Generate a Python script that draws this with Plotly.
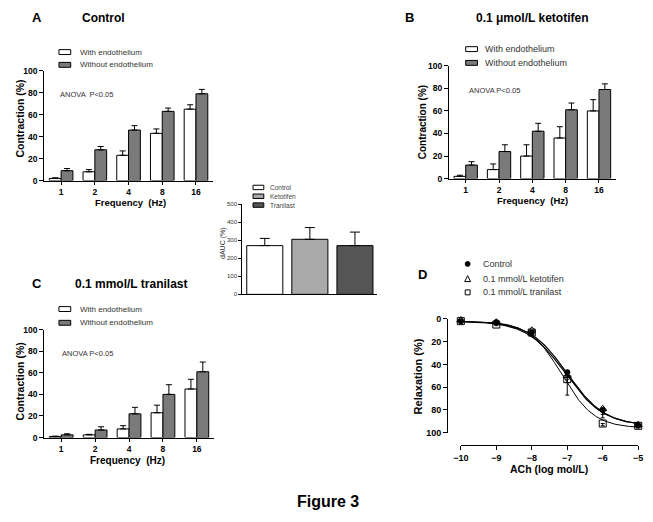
import numpy as np
import plotly.graph_objects as go

W, H = 653, 522

# ---------------- data ----------------
freq = ["1", "2", "4", "8", "16"]

a_with = [2, 8, 23, 43, 65]
a_with_err = [0.5, 2, 4, 4, 4]
a_without = [9, 28, 46, 63, 79]
a_without_err = [2, 3, 4, 3, 4]

b_with = [2, 8, 20, 36, 60]
b_with_err = [1, 5, 10, 10, 10]
b_without = [12, 24, 42, 61, 79]
b_without_err = [3, 6, 7, 6, 5]

c_with = [1, 2.5, 8, 23, 45]
c_with_err = [0.3, 0.5, 3, 7, 9]
c_without = [2.5, 7, 22, 40, 61]
c_without_err = [1, 3, 6, 9, 9]

dauc_groups = ["Control", "Ketotifen", "Tranilast"]
dauc = [270, 305, 270]
dauc_err = [40, 65, 75]

ach = [-10, -9, -8, -7, -6, -5]
d_control = [2, 3, 12, 47, 80, 94]
d_control_err = [0.5, 0.5, 2, 4, 4, 1]
d_keto = [1, 3, 10, 50, 79, 93]
d_keto_err = [0.5, 0.5, 2, 6, 8, 1]
d_tran = [2, 5, 12, 53, 92, 94]
d_tran_err = [0.5, 1, 2, 14, 2, 1]

# fitted sigmoid parameters (top, bottom, logEC50, hill)
fit_control = [2, 94, -7.05, 0.8]
fit_keto = [2, 94, -7.0, 0.82]
fit_tran = [2, 96, -7.15, 0.95]

# ---------------- helpers ----------------
def px(x):
    return x / W

def py(y):
    return 1 - y / H

FONT = "Liberation Sans, Arial, sans-serif"
GREY = "#7a7a7a"
TXT = "#333333"

fig = go.Figure()

def bar_axes(n, x0, x1, y0, y1):
    xa = dict(domain=[px(x0), px(x1)], range=[-0.5, 4.5], type="linear",
              tickmode="array", tickvals=list(range(5)), ticktext=freq,
              showline=True, linecolor="black", linewidth=1.2, ticks="outside",
              ticklen=3, tickcolor="black", showgrid=False, zeroline=False,
              tickfont=dict(family=FONT, size=8.5, color="black", weight="bold"),
              anchor="y" + ("" if n == 1 else str(n)), fixedrange=True)
    ya = dict(domain=[py(y1), py(y0)], range=[0, 100], tickvals=[0, 20, 40, 60, 80, 100],
              showline=True, linecolor="black", linewidth=1.2, ticks="outside",
              ticklen=4, tickcolor="black", showgrid=False, zeroline=False,
              tickfont=dict(family=FONT, size=8.5, color="black", weight="bold"),
              anchor="x" + ("" if n == 1 else str(n)), fixedrange=True)
    return xa, ya

def add_bars(n, with_v, with_e, without_v, without_e):
    xref = "x" + ("" if n == 1 else str(n))
    yref = "y" + ("" if n == 1 else str(n))
    xs = list(range(5))
    fig.add_trace(go.Bar(x=xs, y=with_v, name="With endothelium", xaxis=xref, yaxis=yref,
                         offsetgroup="w", marker=dict(color="white", line=dict(color="black", width=1)),
                         error_y=dict(type="data", array=with_e, arrayminus=[0] * 5, symmetric=False,
                                      color="black", thickness=1, width=3),
                         showlegend=False))
    fig.add_trace(go.Bar(x=xs, y=without_v, name="Without endothelium", xaxis=xref, yaxis=yref,
                         offsetgroup="wo", marker=dict(color=GREY, line=dict(color="black", width=1)),
                         error_y=dict(type="data", array=without_e, arrayminus=[0] * 5, symmetric=False,
                                      color="black", thickness=1, width=3),
                         showlegend=False))

add_bars(1, a_with, a_with_err, a_without, a_without_err)
add_bars(2, b_with, b_with_err, b_without, b_without_err)
add_bars(3, c_with, c_with_err, c_without, c_without_err)

xa1, ya1 = bar_axes(1, 37, 209, 67, 179)
xa2, ya2 = bar_axes(2, 450, 620, 62, 177)
xa3, ya3 = bar_axes(3, 37, 210, 331, 441)

# inset dAUC
fig.add_trace(go.Bar(x=[0, 1, 2], y=dauc, xaxis="x4", yaxis="y4", width=0.8,
                     marker=dict(color=["white", "#aaaaaa", "#555555"], line=dict(color="black", width=1)),
                     error_y=dict(type="data", array=dauc_err, arrayminus=[0] * 3, symmetric=False,
                                  color="black", thickness=1, width=5),
                     showlegend=False, customdata=dauc_groups))
xa4 = dict(domain=[px(239), px(377)], range=[-0.5, 2.5], showline=True, linecolor="black",
           linewidth=1, showticklabels=False, ticks="", showgrid=False, zeroline=False,
           anchor="y4", fixedrange=True)
ya4 = dict(domain=[py(295), py(203)], range=[0, 500], tickvals=[0, 100, 200, 300, 400, 500],
           showline=True, linecolor="black", linewidth=1, ticks="outside", ticklen=3,
           tickcolor="black", showgrid=False, zeroline=False,
           tickfont=dict(family=FONT, size=6, color="#333"), anchor="x4", fixedrange=True)

# panel D curves + points
xs_fit = np.linspace(-10, -5, 200)
def sig(p):
    top, bottom, ec, hill = p
    return top + (bottom - top) / (1 + 10 ** ((ec - xs_fit) * hill))

for p, lw in [(fit_control, 1.2), (fit_keto, 1.2), (fit_tran, 1.0)]:
    fig.add_trace(go.Scatter(x=xs_fit, y=sig(p), mode="lines", xaxis="x5", yaxis="y5",
                             line=dict(color="black", width=lw), showlegend=False, hoverinfo="skip"))

pts = [
    ("Control", d_control, d_control_err, dict(symbol="circle", color="black", size=6)),
    ("0.1 mmol/L ketotifen", d_keto, d_keto_err,
     dict(symbol="triangle-up-open", color="black", size=7, line=dict(width=1))),
    ("0.1 mmol/L tranilast", d_tran, d_tran_err,
     dict(symbol="square-open", color="black", size=7, line=dict(width=1))),
]
for name, vals, errs, mk in pts:
    fig.add_trace(go.Scatter(x=ach, y=vals, mode="markers", name=name, xaxis="x5", yaxis="y5",
                             marker=mk, cliponaxis=False, showlegend=False,
                             error_y=dict(type="data", array=errs, arrayminus=[0] * 6, symmetric=False,
                                          color="black", thickness=1, width=2)))

xa5 = dict(domain=[px(462), px(643)], range=[-10, -5], tickvals=ach, anchor="free",
           position=py(449), showline=True, linecolor="black", linewidth=1.2, ticks="outside",
           ticklen=4, tickcolor="black", showgrid=False, zeroline=False,
           tickfont=dict(family=FONT, size=9, color="black", weight="bold"), fixedrange=True)
ya5 = dict(domain=[py(436), py(320)], range=[100, 0], tickvals=[0, 20, 40, 60, 80, 100],
           anchor="free", position=px(448), showline=True, linecolor="black", linewidth=1.2,
           ticks="outside", ticklen=4, tickcolor="black", showgrid=False, zeroline=False,
           tickfont=dict(family=FONT, size=9, color="black", weight="bold"), fixedrange=True)

# ---------------- annotations ----------------
ann = []
def text(x, y, s, size, bold=False, color="black", xanchor="center", angle=0):
    ann.append(dict(x=px(x), y=py(y), xref="paper", yref="paper", text=("<b>%s</b>" % s) if bold else s,
                    showarrow=False, xanchor=xanchor, yanchor="middle", textangle=angle,
                    font=dict(family=FONT, size=size, color=color)))

# panel letters and titles
text(30, 13, "A", 13, True)
text(97, 13, "Control", 12, True)
text(410, 13, "B", 13, True)
text(535, 13, "0.1 μmol/L ketotifen", 12, True)
text(30, 284, "C", 13, True)
text(125, 284, "0.1 mmol/L tranilast", 12, True)
text(423, 275, "D", 13, True)
text(326, 506, "Figure 3", 16, True)

# axis titles
text(12, 116, "Contraction (%)", 10.5, True, angle=-90)
text(125, 201, "Frequency  (Hz)", 9.5, True)
text(423, 120, "Contraction (%)", 10, True, angle=-90)
text(535, 199, "Frequency  (Hz)", 9.5, True)
text(12, 384, "Contraction (%)", 10.5, True, angle=-90)
text(122, 464, "Frequency  (Hz)", 10, True)
text(220, 243, "dAUC (%)", 7, False, color="#333", angle=-90)
text(418, 379, "Relaxation (%)", 11, True, angle=-90)
text(552, 473, "ACh (log mol/L)", 10.5, True)

# ANOVA labels
text(51, 91, "ANOVA  P<0.05", 7.5, False, TXT, xanchor="left")
text(468, 87, "ANOVA P<0.05", 7.5, False, TXT, xanchor="left")
text(53, 355, "ANOVA P<0.05", 7.5, False, TXT, xanchor="left")

# legends (shapes + text)
shapes = []
def box(x0, yc, w, h, color):
    shapes.append(dict(type="rect", xref="paper", yref="paper", x0=px(x0), x1=px(x0 + w),
                       y0=py(yc + h / 2), y1=py(yc - h / 2), fillcolor=color,
                       line=dict(color="black", width=1)))

for (bx, y1, y2, tx, fs) in [(52, 48, 61, 71, 8), (467, 45, 59, 485, 9), (52, 310, 324, 71, 8)]:
    box(bx, y1, 12, 5, "white")
    box(bx, y2, 12, 5, GREY)
    text(tx, y1, "With endothelium", fs, False, TXT, xanchor="left")
    text(tx, y2, "Without endothelium", fs, False, TXT, xanchor="left")

for yc, col, lab in [(186, "white", "Control"), (195, "#aaaaaa", "Ketotifen"), (204, "#555555", "Tranilast")]:
    box(250, yc, 11, 4.5, col)
    text(265, yc, lab, 6.5, False, "#444", xanchor="left")

# D legend
shapes.append(dict(type="circle", xref="paper", yref="paper", x0=px(466.5), x1=px(471.5),
                   y0=py(266.5), y1=py(261.5), fillcolor="black", line=dict(color="black", width=1)))
shapes.append(dict(type="path", xref="paper", yref="paper",
                   path="M %f,%f L %f,%f L %f,%f Z" % (px(466), py(282), px(472), py(282), px(469), py(276)),
                   line=dict(color="black", width=1), fillcolor="white"))
shapes.append(dict(type="rect", xref="paper", yref="paper", x0=px(466.5), x1=px(471.5),
                   y0=py(295.5), y1=py(290.5), line=dict(color="black", width=1), fillcolor="white"))
text(483, 264, "Control", 9, False, TXT, xanchor="left")
text(483, 279, "0.1 mmol/L ketotifen", 9, False, TXT, xanchor="left")
text(483, 293, "0.1 mmol/L tranilast", 9, False, TXT, xanchor="left")

fig.update_layout(
    width=W, height=H, margin=dict(l=0, r=0, t=0, b=0),
    paper_bgcolor="white", plot_bgcolor="rgba(0,0,0,0)",
    barmode="group", bargap=0.3, bargroupgap=0,
    xaxis=xa1, yaxis=ya1, xaxis2=xa2, yaxis2=ya2, xaxis3=xa3, yaxis3=ya3,
    xaxis4=xa4, yaxis4=ya4, xaxis5=xa5, yaxis5=ya5,
    annotations=ann, shapes=shapes, showlegend=False,
    font=dict(family=FONT),
)

POST = (
    "document.body.style.margin='0';document.body.style.padding='0';"
    "document.documentElement.style.overflow='hidden';document.body.style.overflow='hidden';"
)

fig.write_html("out.html", config={"displayModeBar": False}, post_script=POST)
